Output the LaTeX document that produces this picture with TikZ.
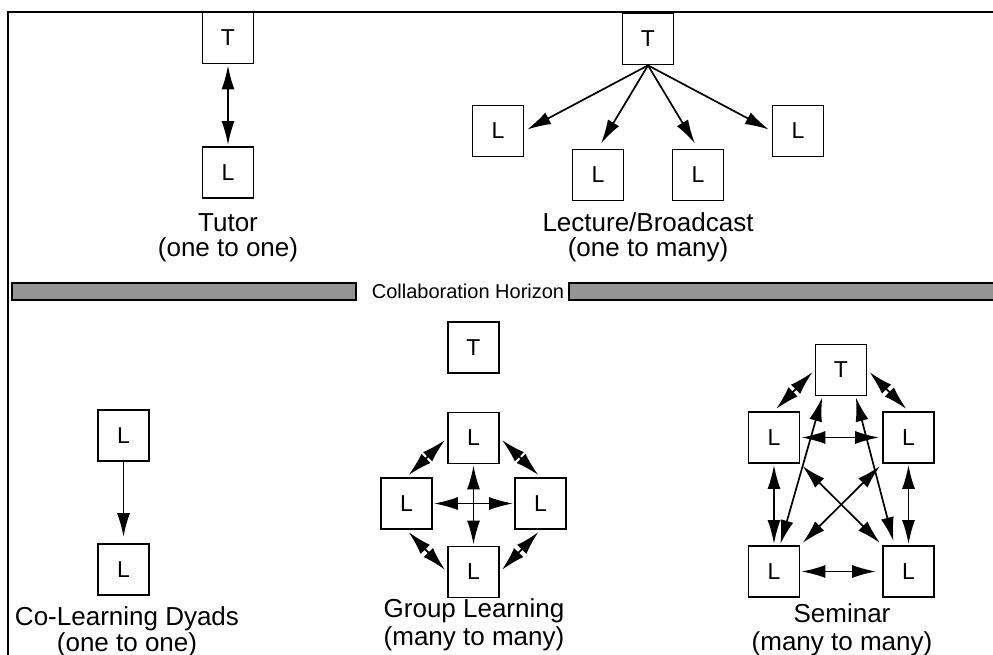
\documentclass[tikz,border=0pt]{standalone}
\usepackage{fontspec}
\setmainfont{Liberation Sans}
\usetikzlibrary{arrows.meta}
\begin{document}
\begin{tikzpicture}[x=1pt,y=-1pt,
  box/.style={draw, line width=1.8pt, minimum width=51pt, minimum height=51pt, inner sep=0pt, font=\fontsize{23}{23}\selectfont},
  lab/.style={anchor=base, inner sep=0pt, font=\fontsize{26}{26}\selectfont},
  one/.style={-{Latex[length=24pt,width=13pt]}, line width=1.7pt, shorten >=3pt},
  two/.style={{Latex[length=24pt,width=13pt]}-{Latex[length=24pt,width=13pt]}, line width=1.7pt, shorten >=3pt, shorten <=3pt},
  bar/.style={draw=black, line width=1.5pt, fill=black!42}]
\useasboundingbox (0,0) rectangle (993,655);
% frame
\draw[line width=2pt] (8,655) -- (8,12) -- (993,12);

% Tutor
\node[box] (tT) at (228,38) {T};
\node[box] (tL) at (228,172.5) {L};
\draw[two, shorten >=1pt, shorten <=1pt] (tT.south) -- (tL.north);
\node[lab] (tutA) at (228,231) {Tutor};
\node[lab] (tutB) at (228,256) {(one to one)};

% Lecture
\node[box] (lT) at (648,39) {T};
\node[box] (l1) at (498,131) {L};
\node[box] (l2) at (598,175) {L};
\node[box] (l3) at (698,175) {L};
\node[box] (l4) at (798,131) {L};
\draw[one] (lT.south) -- (l1.east);
\draw[one, shorten >=6pt] (lT.south) -- (l2.north);
\draw[one, shorten >=6pt] (lT.south) -- (l3.north);
\draw[one] (lT.south) -- (l4.west);
\node[lab] (lecA) at (648,231) {Lecture/Broadcast};
\node[lab] (lecB) at (648,256) {(one to many)};

% Collaboration horizon
\draw[bar] (12,283) rectangle (356,300);
\draw[bar] (569,283) rectangle (994,300);
\node[inner sep=0pt, font=\fontsize{20}{20}\selectfont] (hor) at (468,291.5) {Collaboration Horizon};

% Co-Learning Dyads
\node[box] (cA) at (123.5,435.5) {L};
\node[box] (cB) at (123.5,569.5) {L};
\draw[one, shorten >=6pt] (cA.south) -- (cB.north);
\node[lab] (coA) at (127,625) {Co-Learning Dyads};
\node[lab] (coB) at (127,651) {(one to one)};

% Group Learning
\node[box] (gTT) at (473.5,347.5) {T};
\node[box] (gT) at (473.5,438) {L};
\node[box] (gL) at (406.5,503.5) {L};
\node[box] (gR) at (540.5,503.5) {L};
\node[box] (gB) at (473.5,572) {L};
\draw[two, shorten >=1pt, shorten <=1pt] (gT.south) -- (gB.north);
\draw[two, shorten >=1pt, shorten <=1pt] (gL.east) -- (gR.west);
\draw[two] (gT.west) -- (gL.north);
\draw[two] (gT.east) -- (gR.north);
\draw[two] (gL.south) -- (gB.west);
\draw[two] (gR.south) -- (gB.east);
\node[lab] (grA) at (474,617) {Group Learning};
\node[lab] (grB) at (474,645) {(many to many)};

% Seminar
\node[box] (sT) at (841,370) {T};
\node[box] (sL) at (774,437.5) {L};
\node[box] (sR) at (908.5,437.5) {L};
\node[box] (sBL) at (774,571.5) {L};
\node[box] (sBR) at (908.5,571.5) {L};
\draw[two] (sT.west) -- (sL.north);
\draw[two] (sT.east) -- (sR.north);
\draw[two, shorten <=1pt] (sL.east) -- (sR.west);
\draw[two, shorten >=1pt, shorten <=1pt] (sL.south) -- (sBL.north);
\draw[two, shorten >=1pt, shorten <=1pt] (sR.south) -- (sBR.north);
\draw[two, shorten >=1pt, shorten <=6pt] (sBR.west) -- (sBL.east);
\draw[two, shorten >=1pt, shorten <=1pt] (sT.235) -- (sBL.77);
\draw[two, shorten >=4pt, shorten <=1pt] (sT.299) -- (sBR.118);
\draw[two] (sL.south east) -- (sBR.north west);
\draw[two] (sR.south west) -- (sBL.north east);
\node[lab] (seA) at (842,622) {Seminar};
\node[lab] (seB) at (842,650) {(many to many)};
\end{tikzpicture}
\end{document}
